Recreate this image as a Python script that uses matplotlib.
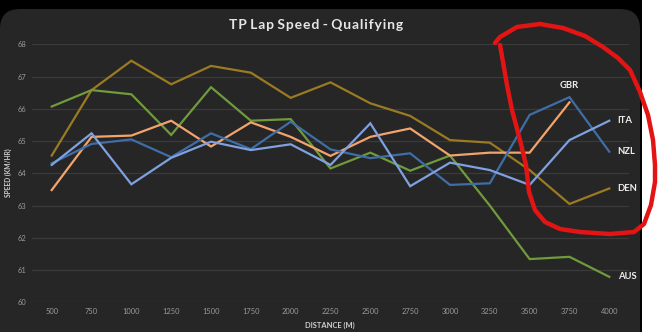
import matplotlib
matplotlib.use('Agg')
import matplotlib.pyplot as plt
from matplotlib.patches import FancyBboxPatch, Rectangle
from matplotlib.lines import Line2D

# Distance markers (m) and lap speeds (km/hr) per nation
distance = [500, 750, 1000, 1250, 1500, 1750, 2000, 2250, 2500, 2750, 3000, 3250, 3500, 3750, 4000]
den = [64.55, 66.58, 67.49, 66.76, 67.33, 67.12, 66.34, 66.82, 66.17, 65.78, 65.03, 64.95, 64.1, 63.05, 63.53]
aus = [66.07, 66.58, 66.45, 65.19, 66.67, 65.63, 65.68, 64.15, 64.64, 64.08, 64.55, 63.0, 61.34, 61.41, 60.79]
gbr = [63.48, 65.13, 65.17, 65.63, 64.83, 65.58, 65.13, 64.54, 65.13, 65.39, 64.55, 64.64, 64.64, 66.2]
nzl = [64.31, 64.91, 65.05, 64.5, 65.24, 64.75, 65.6, 64.74, 64.47, 64.62, 63.64, 63.69, 65.81, 66.36, 64.67]
ita = [64.26, 65.24, 63.66, 64.48, 64.98, 64.72, 64.9, 64.26, 65.55, 63.6, 64.33, 64.1, 63.64, 65.03, 65.63]

series = [
    ('DEN', den, '#9a7b22'),
    ('AUS', aus, '#6f9b3d'),
    ('GBR', gbr, '#f2a46c'),
    ('NZL', nzl, '#3f6ea6'),
    ('ITA', ita, '#7fa1e0'),
]

W, H = 661, 332
fig = plt.figure(figsize=(W / 100, H / 100), dpi=100, facecolor='white')
plt.rcParams['font.family'] = ['Lato', 'DejaVu Sans']

# Screenshot frame: black backdrop with rounded dark chart panel
fig.patches.append(Rectangle((0, 0), 642 / W, 1, transform=fig.transFigure,
                             facecolor='black', edgecolor='none', zorder=-2))
fig.patches.append(FancyBboxPatch((0, -0.1), 640 / W, (H - 9) / H + 0.1,
                                  boxstyle='round,pad=0,rounding_size=0.03',
                                  transform=fig.transFigure, mutation_aspect=W / H,
                                  facecolor='#262626', edgecolor='none', zorder=-1))

ax = fig.add_axes([31.8 / W, 29.7 / H, 597.4 / W, 258 / H])
ax.set_facecolor('none')
ax.set_zorder(2)

for name, vals, color in series:
    ax.plot(distance[:len(vals)], vals, color=color, lw=1.6, solid_joinstyle='miter')

ax.set_xlim(375, 4125)
ax.set_ylim(60, 68)
ax.set_xticks(distance)
ax.set_yticks(range(60, 69))
ax.grid(axis='y', color='#3a3a3a', lw=0.9)
ax.set_axisbelow(True)
for s in ax.spines.values():
    s.set_visible(False)
ax.tick_params(length=0, labelsize=5.4, labelcolor='#9a9a9a', pad=4)

# End-of-line labels
label_offsets = {'GBR': (0, 12, 'center'), 'ITA': (6, 0, 'left'), 'NZL': (6, 0, 'left'),
                 'DEN': (6, 0, 'left'), 'AUS': (6, 0, 'left')}
for name, vals, color in series:
    dx, dy, ha = label_offsets[name]
    ax.annotate(name, (distance[len(vals) - 1], vals[-1]), xytext=(dx, dy),
                textcoords='offset points', ha=ha, va='center', fontsize=6.8,
                fontweight='bold', color='#eeeeee')

title = ' '.join('\u200a'.join(w) for w in 'TP Lap Speed - Qualifying'.split(' '))
fig.text(316 / W, 1 - 25 / H, title, ha='center', va='center',
         fontsize=10, fontweight='bold', color='#e6e6e6')
fig.text(330 / W, 1 - 325 / H, 'DISTANCE (M)', ha='center', va='center',
         fontsize=5.4, fontweight='bold', color='#cfcfcf')
fig.text(8 / W, 1 - 173 / H, 'SPEED (KM/HR)', ha='center', va='center', rotation=90,
         fontsize=4.8, fontweight='bold', color='#cfcfcf')

# Red hand-drawn highlight loop
loop_px = [(495, 43), (500, 37), (517, 27), (540, 24), (563, 28), (585, 36), (603, 47),
           (618, 58), (630, 70), (640, 92), (648, 115), (653, 140), (655, 165), (655, 182),
           (651, 205), (644, 224), (634, 232), (610, 234), (580, 232), (560, 229),
           (545, 222), (535, 210), (529, 192), (526, 165), (520, 140), (512, 110),
           (507, 85), (503, 62), (500, 45)]
fig.lines.append(Line2D([p[0] / W for p in loop_px], [1 - p[1] / H for p in loop_px],
                        transform=fig.transFigure, color='#e31414', lw=3.2,
                        solid_capstyle='round', solid_joinstyle='round', zorder=10))

fig.savefig('out.png', dpi=100, facecolor=fig.get_facecolor())
